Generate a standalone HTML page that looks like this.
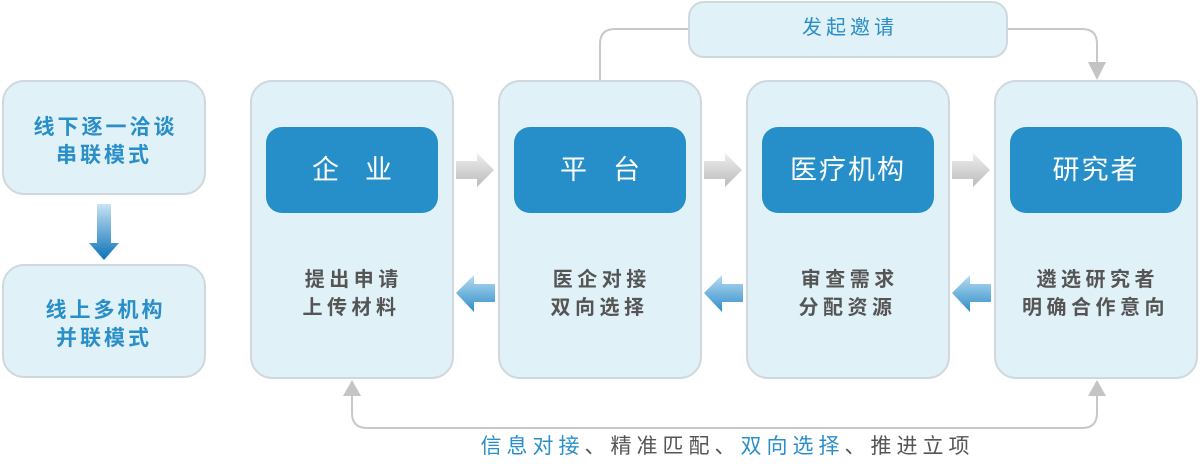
<!DOCTYPE html>
<html><head><meta charset="utf-8"><style>
body{margin:0;width:1200px;height:464px;background:#fff;position:relative;overflow:hidden;font-family:"Liberation Sans","Noto Sans CJK SC",sans-serif}
.b{position:absolute;background:#e0f1f7;border:2px solid #cfd8dc;border-radius:22px;box-sizing:border-box}
.h{position:absolute;background:#268fc9;border-radius:16px;color:#fff;font-size:27px;text-align:center;line-height:86px;width:172px;height:86px;top:127px}
.t{position:absolute;color:#555;font-size:20px;text-align:center;line-height:28px;width:203px;top:266px;font-weight:bold;letter-spacing:4.5px;text-indent:4.5px}
.l{position:absolute;color:#2a8fc9;font-size:21px;text-align:center;line-height:28px;font-weight:bold;letter-spacing:3px;text-indent:3px}
svg{position:absolute;left:0;top:0}
</style></head><body>
<svg width="1200" height="464">
<defs>
<linearGradient id="g" x1="0" y1="0" x2="0" y2="1"><stop offset="0" stop-color="#eee"/><stop offset="1" stop-color="#bbb"/></linearGradient>
<linearGradient id="bl" x1="0" y1="0" x2="0" y2="1"><stop offset="0" stop-color="#b8dcf2"/><stop offset="1" stop-color="#2e8dc9"/></linearGradient>
<linearGradient id="dv" x1="0" y1="0" x2="0" y2="1"><stop offset="0" stop-color="#c8e2f4"/><stop offset="1" stop-color="#0a72b8"/></linearGradient>
</defs>
<path d="M600 80 V44 Q600 29 615 29 H690" fill="none" stroke="#c8c8c8" stroke-width="2"/>
<path d="M1006 29 H1082 Q1097 29 1097 44 V64" fill="none" stroke="#c8c8c8" stroke-width="2"/>
<polygon points="1088,62 1106,62 1097,80" fill="#c4c4c4"/>
<path d="M352 396 V413 Q352 428 367 428 H1082 Q1097 428 1097 413 V396" fill="none" stroke="#c8c8c8" stroke-width="2"/>
<polygon points="343,396 361,396 352,380" fill="#c4c4c4"/>
<polygon points="1088,396 1106,396 1097,380" fill="#c4c4c4"/>
<polygon points="97,204 111,204 111,243 119,243 104,260 89,243 97,243" fill="url(#dv)"/>
<g id="ar">
<polygon points="456,161 477,161 477,153 494,170 477,187 477,179 456,179" fill="url(#g)"/>
<polygon points="495,284 474,284 474,275 456,293 474,312 474,302 495,302" fill="url(#bl)"/>
</g>
<use href="#ar" x="248"/>
<use href="#ar" x="496"/>
</svg>
<div class="b" style="left:2px;top:80px;width:204px;height:115px"></div>
<div class="l" style="left:2px;top:114px;width:204px">线下逐一洽谈<br>串联模式</div>
<div class="b" style="left:2px;top:264px;width:204px;height:114px"></div>
<div class="l" style="left:2px;top:297px;width:204px">线上多机构<br>并联模式</div>
<div class="b" style="left:688px;top:1px;width:320px;height:57px;border-radius:16px"></div>
<div class="l" style="left:688px;top:14px;width:320px;font-weight:normal;font-size:20px;letter-spacing:4px;text-indent:4px">发起邀请</div>

<div class="b" style="left:250px;top:80px;width:204px;height:299px"></div>
<div class="b" style="left:498px;top:80px;width:204px;height:299px"></div>
<div class="b" style="left:746px;top:80px;width:204px;height:299px"></div>
<div class="b" style="left:994px;top:80px;width:204px;height:299px"></div>
<div class="h" style="left:266px;letter-spacing:26px;text-indent:26px">企业</div>
<div class="h" style="left:514px;letter-spacing:26px;text-indent:26px">平台</div>
<div class="h" style="left:762px;letter-spacing:2px">医疗机构</div>
<div class="h" style="left:1010px;letter-spacing:2px">研究者</div>
<div class="t" style="left:250px">提出申请<br>上传材料</div>
<div class="t" style="left:498px">医企对接<br>双向选择</div>
<div class="t" style="left:746px">审查需求<br>分配资源</div>
<div class="t" style="left:994px">遴选研究者<br>明确合作意向</div>
<div style="position:absolute;left:445px;top:433px;width:560px;text-align:center;font-size:21px;line-height:28px;color:#555;letter-spacing:5px;text-indent:5px"><span style="color:#2a8fc9">信息对接</span>、精准匹配、<span style="color:#2a8fc9">双向选择</span>、推进立项</div>
</body></html>
